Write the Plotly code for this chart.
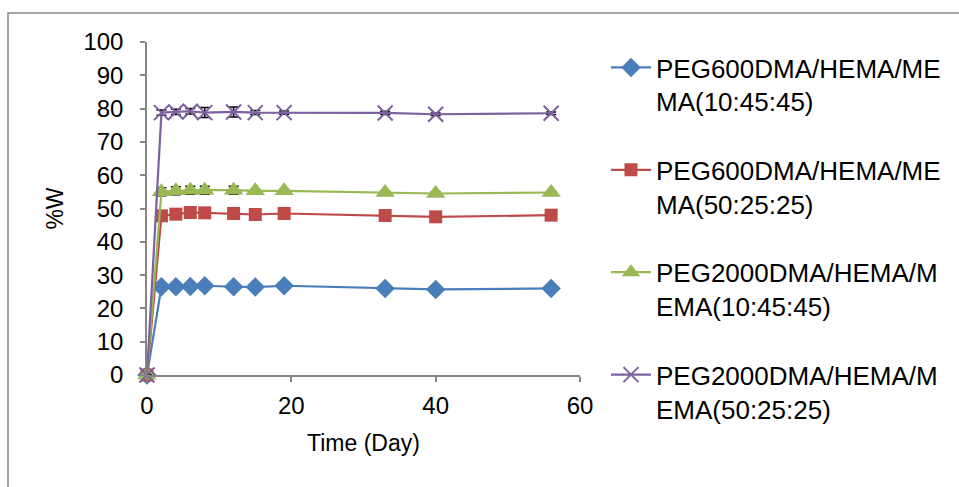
import plotly.graph_objects as go

# Swelling (%W) over time for four hydrogel formulations
days = [0, 2, 4, 6, 8, 12, 15, 19, 33, 40, 56]

peg600_10 = [0, 26.5, 26.5, 26.6, 26.8, 26.5, 26.4, 26.8, 26.0, 25.7, 26.0]
peg600_50 = [0, 47.8, 48.3, 48.8, 48.7, 48.5, 48.2, 48.5, 47.9, 47.5, 48.0]
peg2000_10 = [0, 55.0, 55.3, 55.5, 55.5, 55.5, 55.3, 55.3, 54.8, 54.5, 54.8]
peg2000_50 = [0, 78.8, 79.0, 79.2, 78.8, 79.0, 78.8, 78.8, 78.7, 78.3, 78.6]

err600_10 = [0, 0.3, 0.3, 0.3, 0.3, 0.3, 0.3, 0.3, 0.3, 0.3, 0.3]
err600_50 = [0, 0.4, 0.4, 0.4, 0.4, 0.4, 0.4, 0.4, 0.4, 0.4, 0.4]
err2000_10 = [0, 1.2, 1.2, 1.2, 1.2, 1.2, 0.5, 0.5, 0.5, 0.5, 0.5]
err2000_50 = [0, 0.8, 0.8, 0.8, 1.5, 1.5, 0.6, 0.5, 0.5, 0.4, 0.4]

names = [
    "PEG600DMA/HEMA/ME<br>MA(10:45:45)",
    "PEG600DMA/HEMA/ME<br>MA(50:25:25)",
    "PEG2000DMA/HEMA/M<br>EMA(10:45:45)",
    "PEG2000DMA/HEMA/M<br>EMA(50:25:25)",
]
x_ticks = [0, 20, 40, 60]
y_ticks = list(range(0, 101, 10))

FONT = "Liberation Sans, Arial, sans-serif"
AXIS_GREY = "#868686"

series = [
    (peg600_10, err600_10, "#4a7ebb", "diamond", 15),
    (peg600_50, err600_50, "#be4b48", "square", 13),
    (peg2000_10, err2000_10, "#98b954", "triangle-up", 17),
    (peg2000_50, err2000_50, "#7d60a0", "x-thin", 15),
]

legend_ids = ["legend", "legend2", "legend3", "legend4"]

fig = go.Figure()
for i, (vals, errs, color, sym, size) in enumerate(series):
    marker = dict(symbol=sym, size=size, color=color)
    if sym == "x-thin":
        marker["line"] = dict(color=color, width=2)
    fig.add_trace(go.Scatter(
        x=days, y=vals, name=names[i], mode="lines+markers",
        line=dict(color=color, width=2.2),
        marker=marker,
        error_y=dict(type="data", array=errs, visible=True,
                     color="black", thickness=1.5, width=5),
        cliponaxis=False,
        legend=legend_ids[i],
    ))

# Outer chart frame
fig.add_shape(type="rect", xref="paper", yref="paper",
              x0=-139 / 433, x1=1.2 + 379 / 433,
              y0=-0.5, y1=1 + 29 / 333,
              line=dict(color=AXIS_GREY, width=1.5), layer="below")

# One legend box per series, stacked down the right side
legend_boxes = {}
for i, lid in enumerate(legend_ids):
    legend_boxes[lid] = dict(
        x=1.06, xanchor="left", y=0.994 - 0.3075 * i, yanchor="top",
        font=dict(size=26, family=FONT, color="black"),
        valign="top", itemwidth=40, bgcolor="rgba(0,0,0,0)",
    )

fig.update_layout(
    width=959, height=487,
    margin=dict(l=147, r=379, t=42, b=112),
    paper_bgcolor="white", plot_bgcolor="white",
    font=dict(family=FONT, color="black", size=24),
    showlegend=True,
    **legend_boxes,
    xaxis=dict(range=[0, 60], tickvals=x_ticks, showgrid=False, zeroline=False,
               showline=True, linecolor=AXIS_GREY, linewidth=1.5,
               ticks="outside", ticklen=5, tickcolor=AXIS_GREY, tickwidth=1.5,
               tickfont=dict(size=24), ticklabelstandoff=3,
               title=dict(text="Time (Day)", font=dict(size=23), standoff=17)),
    yaxis=dict(range=[0, 100], tickvals=y_ticks, showgrid=False, zeroline=False,
               showline=True, linecolor=AXIS_GREY, linewidth=1.5,
               ticks="outside", ticklen=5, tickcolor=AXIS_GREY, tickwidth=1.5,
               tickfont=dict(size=24), ticklabelstandoff=12,
               title=dict(text="%W", font=dict(size=23), standoff=13)),
)

fig.write_html("out.html")
